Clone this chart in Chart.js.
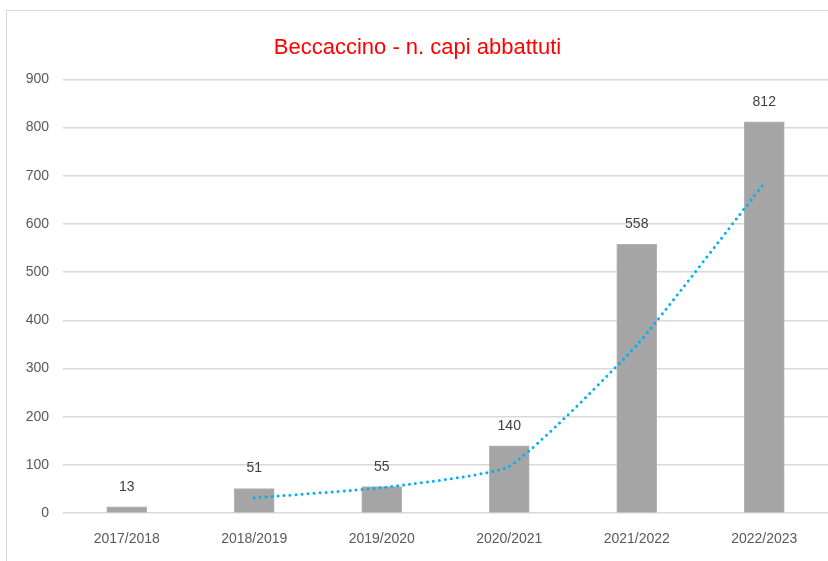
<!DOCTYPE html>
<html>
<head>
<meta charset="utf-8">
<script src="https://cdn.jsdelivr.net/npm/chart.js@4/dist/chart.umd.min.js"></script>
<style>
    body { margin: 0; background: #fff; overflow: hidden; }
    #box {
        position: absolute; left: 6px; top: 10px;
        width: 840px; height: 560px;
        border: 1px solid #d9d9d9;
        background: #fff;
    }
</style>
</head>
<body>
<div id="box"><canvas id="chart" width="840" height="560"></canvas></div>
<script>
// Dati
const stagioni = ['2017/2018', '2018/2019', '2019/2020', '2020/2021', '2021/2022', '2022/2023'];
const capiAbbattuti = [13, 51, 55, 140, 558, 812];
// media mobile (linea tratteggiata)
const mediaMobile = [null, 32, 53, 97.5, 349, 685];
const tickValori = [0, 100, 200, 300, 400, 500, 600, 700, 800, 900];

const grigioTesto = '#595959';

// Etichette sopra le barre
const etichettePlugin = {
    id: 'etichette',
    afterDatasetsDraw(chart) {
        const ctx = chart.ctx;
        const meta = chart.getDatasetMeta(0);
        ctx.save();
        ctx.font = '14px "Liberation Sans", sans-serif';
        ctx.fillStyle = '#404040';
        ctx.textAlign = 'center';
        ctx.textBaseline = 'middle';
        meta.data.forEach((bar, i) => {
            ctx.fillText(capiAbbattuti[i], bar.x, bar.y - 20);
        });
        ctx.restore();
    }
};

const ctx = document.getElementById('chart').getContext('2d');
new Chart(ctx, {
    type: 'bar',
    data: {
        labels: stagioni,
        datasets: [{
            type: 'bar',
            data: capiAbbattuti,
            backgroundColor: '#a5a5a5',
            borderColor: '#b4b4b4',
            borderWidth: 1,
            barThickness: 40,
            order: 2
        }, {
            type: 'line',
            data: mediaMobile,
            borderColor: '#00b0f0',
            borderWidth: 3,
            borderDash: [0, 6],
            borderCapStyle: 'round',
            pointRadius: 0,
            tension: 0.15,
            fill: false,
            order: 1
        }]
    },
    options: {
        responsive: false,
        animation: false,
        layout: { padding: { left: 0, right: 19, top: 0, bottom: 13 } },
        plugins: {
            legend: { display: false },
            tooltip: { enabled: false },
            title: {
                display: true,
                text: 'Beccaccino - n. capi abbattuti',
                color: '#ff0000',
                font: { family: '"Liberation Sans", sans-serif', size: 22, weight: 'normal' },
                padding: { top: 24, bottom: 18 }
            }
        },
        scales: {
            x: {
                grid: { display: false },
                border: { display: false },
                ticks: {
                    color: grigioTesto,
                    font: { family: '"Liberation Sans", sans-serif', size: 14 },
                    padding: 10,
                    maxRotation: 0
                }
            },
            y: {
                min: 0,
                max: 900,
                afterBuildTicks(scale) {
                    scale.ticks = tickValori.map(v => ({ value: v }));
                },
                afterFit(scale) { scale.width = 56; },
                grid: { color: '#d9d9d9', lineWidth: 1.5, drawTicks: false },
                border: { display: false },
                ticks: {
                    color: grigioTesto,
                    font: { family: '"Liberation Sans", sans-serif', size: 14 },
                    padding: 14
                }
            }
        }
    },
    plugins: [etichettePlugin]
});
</script>
</body>
</html>
